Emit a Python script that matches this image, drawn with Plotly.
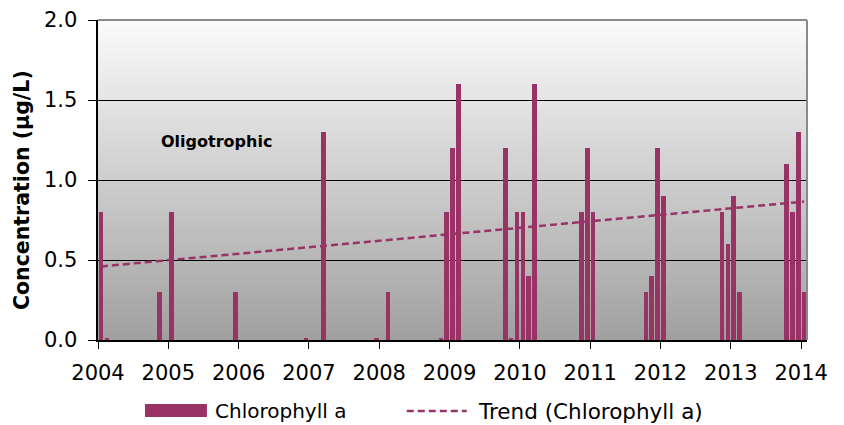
import plotly.graph_objects as go

# ---------------- data ----------------
months = ["2004-01", "2004-02", "2004-11", "2005-01", "2005-12", "2006-12", "2007-03",
          "2007-12", "2008-02", "2008-11", "2008-12", "2009-01", "2009-02", "2009-10",
          "2009-11", "2009-12", "2010-01", "2010-02", "2010-03", "2010-11", "2010-12",
          "2011-01", "2011-10", "2011-11", "2011-12", "2012-01", "2012-11", "2012-12",
          "2013-01", "2013-02", "2013-10", "2013-11", "2013-12", "2014-01"]
chl_a = [0.80, 0.01, 0.30, 0.80, 0.30, 0.01, 1.30,
         0.01, 0.30, 0.01, 0.80, 1.20, 1.60, 1.20,
         0.01, 0.80, 0.80, 0.40, 1.60, 0.80, 1.20,
         0.80, 0.30, 0.40, 1.20, 0.90, 0.80, 0.60,
         0.90, 0.30, 1.10, 0.80, 1.30, 0.30]
trend_months = ["2004-01", "2014-01"]
trend_values = [0.46, 0.865]
year_labels = ["2004", "2005", "2006", "2007", "2008", "2009",
               "2010", "2011", "2012", "2013", "2014"]
y_ticks = [0.0, 0.5, 1.0, 1.5, 2.0]
y_tick_labels = ["0.0", "0.5", "1.0", "1.5", "2.0"]

BASE_YEAR = 2004


def slot(m):
    y, mo = m.split("-")
    return (int(y) - BASE_YEAR) * 12 + int(mo) - 1 + 0.5


x_bars = [slot(m) for m in months]
x_trend = [slot(m) for m in trend_months]
tick_pos = [(int(y) - BASE_YEAR) * 12 for y in year_labels]

PLUM = "#993366"
FONT = "DejaVu Sans"

W, H = 844, 425
L, R, T, B = 98, 807.5, 20, 340


def px(xp):
    return (xp - L) / (R - L)


def py(yp):
    return (B - yp) / (B - T)


fig = go.Figure()
fig.add_trace(go.Bar(x=x_bars, y=chl_a, width=0.78, name="Chlorophyll a",
                     marker=dict(color=PLUM, line=dict(width=0)), showlegend=False))
fig.add_trace(go.Scatter(x=x_trend, y=trend_values, mode="lines", name="Trend (Chlorophyll a)",
                         line=dict(color=PLUM, width=2.5, dash="7px,4px"), showlegend=False))

shapes = []
# gradient background (overlapping bands, drawn bottom to top, to avoid seams)
N = 100
top_c, bot_c = 251, 160
for i in range(N):
    t = (i + 0.5) / N
    c = int(round(bot_c + (top_c - bot_c) * t))
    shapes.append(dict(type="rect", xref="x domain", yref="y domain", x0=0, x1=1,
                       y0=i / N, y1=1,
                       fillcolor=f"rgb({c},{c},{c})", line=dict(width=0), layer="below"))
# top & right border
shapes.append(dict(type="line", xref="paper", yref="paper", x0=0, x1=1, y0=1, y1=1,
                   line=dict(color="#8a8a8a", width=2), layer="above"))
shapes.append(dict(type="line", xref="paper", yref="paper", x0=1, x1=1, y0=0, y1=1,
                   line=dict(color="#8a8a8a", width=2), layer="above"))
# legend
shapes.append(dict(type="rect", xref="paper", yref="paper", x0=px(145), x1=px(207),
                   y0=py(417), y1=py(404), fillcolor=PLUM, line=dict(width=0)))
shapes.append(dict(type="line", xref="paper", yref="paper", x0=px(407), x1=px(467),
                   y0=py(411), y1=py(411), line=dict(color=PLUM, width=2.5, dash="7px,4px")))

annotations = [
    dict(text="Oligotrophic", x=20.3, y=1.24, xref="x", yref="y", showarrow=False,
         xanchor="center", yanchor="middle",
         font=dict(family=FONT, size=16, color="black", weight="bold")),
    dict(text="Concentration (µg/L)", x=px(22), y=py(190), xref="paper", yref="paper",
         showarrow=False, textangle=-90, xanchor="center", yanchor="middle",
         font=dict(family=FONT, size=20.5, color="black", weight="bold")),
    dict(text="Chlorophyll a", x=px(213), y=py(411), xref="paper", yref="paper",
         xanchor="left", yanchor="middle", showarrow=False,
         font=dict(family=FONT, size=20, color="black")),
    dict(text="Trend (Chlorophyll a)", x=px(476), y=py(411), xref="paper", yref="paper",
         xanchor="left", yanchor="middle", showarrow=False,
         font=dict(family=FONT, size=21.5, color="black")),
]
# y tick labels, placed further from the axis than plotly's default
for v, lab in zip(y_ticks, y_tick_labels):
    annotations.append(dict(text=lab, x=px(79), y=v, xref="paper", yref="y",
                            xanchor="right", yanchor="middle", showarrow=False,
                            font=dict(family=FONT, size=21, color="black")))

fig.update_layout(
    width=W, height=H,
    margin=dict(l=L, r=W - R, t=T, b=H - B),
    paper_bgcolor="white", plot_bgcolor="white",
    shapes=shapes, annotations=annotations,
    bargap=0, showlegend=False,
    font=dict(family=FONT, color="black"),
)
fig.update_xaxes(range=[0, 121], tickvals=tick_pos, ticktext=year_labels,
                 showgrid=False, zeroline=False, showline=True, linecolor="black", linewidth=1.5,
                 ticks="outside", ticklen=7, tickcolor="black", tickwidth=1.2,
                 ticklabelstandoff=6,
                 tickfont=dict(family=FONT, size=21, color="black"))
fig.update_yaxes(range=[0, 2.0], tickvals=y_ticks, showticklabels=False,
                 showgrid=True, gridcolor="black", gridwidth=1.2, zeroline=False,
                 showline=True, linecolor="black", linewidth=1.5,
                 ticks="outside", ticklen=8, tickcolor="black", tickwidth=1.2)

fig.write_html("out.html", config={"displayModeBar": False},
               post_script="document.body.style.margin='0';document.body.style.padding='0';"
                           "document.body.style.overflow='hidden';")
